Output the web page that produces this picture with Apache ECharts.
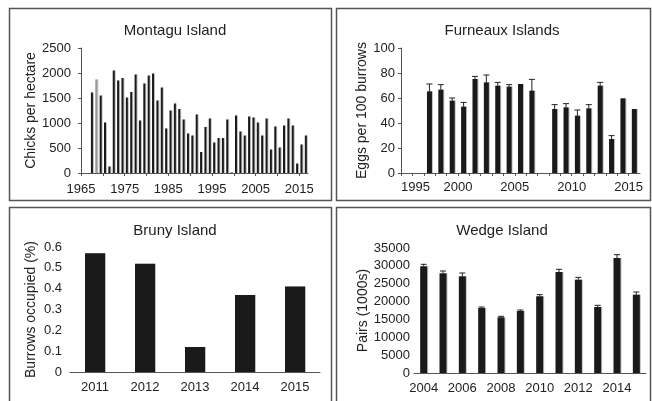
<!DOCTYPE html>
<html>
<head>
<meta charset="utf-8">
<script src="https://cdn.jsdelivr.net/npm/echarts@6/dist/echarts.min.js"></script>
<style>
  html, body { margin: 0; padding: 0; background: #fff; }
  #chart { width: 652px; height: 401px; }
</style>
</head>
<body>
<div id="chart"></div>
<script>
// Montagu Island - chicks per hectare
var montaguYears = [1967, 1968, 1969, 1970, 1971, 1972, 1973, 1974, 1975, 1976, 1977, 1978, 1979, 1980, 1981, 1982,
  1983, 1984, 1985, 1986, 1987, 1988, 1989, 1990, 1991, 1992, 1993, 1994, 1995, 1996, 1997, 1998, 1999, 2000,
  2001, 2002, 2003, 2004, 2005, 2006, 2007, 2008, 2009, 2010, 2011, 2012, 2013, 2014, 2015, 2016];
var montaguValues = [1610, 1870, 1550, 1010, 130, 2050, 1850, 1900, 1510, 1620, 1970, 1050, 1790, 1950, 1990, 1450,
  1710, 890, 1250, 1390, 1280, 1070, 790, 750, 1170, 420, 920, 1090, 610, 700, 700, 1070, 10, 1150,
  830, 750, 1130, 1110, 1010, 750, 1090, 470, 930, 510, 950, 1090, 950, 190, 570, 750];
var montaguGreyYear = 1968;

// Furneaux Islands - eggs per 100 burrows
var furneauxYears = [1997, 1998, 1999, 2000, 2001, 2002, 2003, 2004, 2005, 2006, 2008, 2009, 2010, 2011, 2012, 2013, 2014, 2015];
var furneauxValues = [65.3, 66.7, 57.9, 53.1, 75.2, 72.5, 69.9, 69.1, 71.2, 65.9, 51.2, 52.5, 45.9, 51.7, 69.9, 27.2, 59.7, 51.2];
var furneauxErrors = [5.9, 4.0, 2.1, 3.4, 2.1, 5.9, 2.6, 1.6, 0, 9.0, 3.5, 3.0, 4.5, 3.0, 2.6, 2.7, 0, 0];

// Bruny Island - burrows occupied
var brunyYears = ['2011', '2012', '2013', '2014', '2015'];
var brunyValues = [0.57, 0.52, 0.12, 0.37, 0.41];

// Wedge Island - pairs
var wedgeYears = ['2004', '2005', '2006', '2007', '2008', '2009', '2010', '2011', '2012', '2013', '2014', '2015'];
var wedgeValues = [29870, 27910, 27070, 18200, 15590, 17360, 21470, 28280, 26130, 18480, 32200, 21930];
var wedgeErrors = [560, 650, 930, 280, 280, 280, 470, 750, 650, 470, 930, 750];

var FONT = 'Liberation Sans, Arial, sans-serif';
var TXT = '#222';
var LINE = '#555';
var BAR = '#1a1a1a';

// bars sit in the middle of their year on the value axes
var montaguData = montaguYears.map(function (y, i) {
  var item = {value: [y + 0.5, montaguValues[i]]};
  if (y === montaguGreyYear) item.itemStyle = {color: '#999'};
  return item;
});
var furneauxData = furneauxYears.map(function (y, i) { return [y + 0.5, furneauxValues[i]]; });
var furneauxErr = furneauxYears.map(function (y, i) { return [y + 0.5, furneauxValues[i], furneauxErrors[i]]; });
var wedgeErr = wedgeYears.map(function (y, i) { return [i, wedgeValues[i], wedgeErrors[i]]; });

function errorBar(params, api) {
  var e = api.value(2);
  if (!e) return;
  var base = api.coord([api.value(0), api.value(1)]);
  var top = api.coord([api.value(0), api.value(1) + e]);
  var s = {stroke: '#222', lineWidth: 1};
  return {
    type: 'group',
    children: [
      {type: 'line', shape: {x1: base[0], y1: base[1], x2: top[0], y2: top[1]}, style: s},
      {type: 'line', shape: {x1: top[0] - 3, y1: top[1], x2: top[0] + 3, y2: top[1]}, style: s}
    ]
  };
}

function plain(v) { return String(v); }

function axis(b) {
  var a = {
    axisLine: {lineStyle: {color: LINE, width: 1}},
    axisTick: {length: 3, lineStyle: {color: LINE}},
    splitLine: {show: false},
    nameTextStyle: {color: TXT, fontSize: 14, fontFamily: FONT}
  };
  var lab = {color: TXT, fontSize: 13, fontFamily: FONT, formatter: plain};
  Object.assign(lab, b.label || {});
  delete b.label;
  a.axisLabel = lab;
  return Object.assign(a, b);
}

function titleAt(text, x, y) {
  return {text: text, left: x, top: y, textAlign: 'center',
    textStyle: {color: TXT, fontSize: 15, fontWeight: 'normal', fontFamily: FONT}};
}

var shadow = {shadowColor: 'rgba(0,0,0,0.25)', shadowOffsetX: 1, shadowBlur: 0};

var option = {
  backgroundColor: '#fff',
  animation: false,
  title: [
    titleAt('Montagu Island', 170, 18),
    titleAt('Furneaux Islands', 497, 18),
    titleAt('Bruny Island', 170, 218),
    titleAt('Wedge Island', 497, 218)
  ],
  grid: [
    {left: 81, top: 48, width: 227, height: 125},
    {left: 401, top: 48, width: 239, height: 125},
    {left: 70, top: 247, width: 250, height: 125},
    {left: 414, top: 248, width: 232, height: 125}
  ],
  xAxis: [
    axis({gridIndex: 0, type: 'value', min: 1965, max: 2017, interval: 5,
      label: {showMaxLabel: false, margin: 10,
        formatter: function (v) { return (v - 1965) % 10 === 0 ? String(v) : ''; }}}),
    axis({gridIndex: 1, type: 'value', min: 1995, max: 2016, interval: 1,
      label: {showMaxLabel: false, alignMinLabel: 'left',
        formatter: function (v) { return v % 5 === 0 ? String(v) : ''; }}}),
    axis({gridIndex: 2, type: 'category', data: brunyYears,
      axisTick: {length: 4, lineStyle: {color: LINE}}, label: {margin: 9}}),
    axis({gridIndex: 3, type: 'category', data: wedgeYears,
      axisTick: {length: 3, interval: 1, lineStyle: {color: LINE}},
      label: {interval: 1, margin: 9}})
  ],
  yAxis: [
    axis({gridIndex: 0, type: 'value', min: 0, max: 2500, interval: 500, label: {margin: 10},
      name: 'Chicks per hectare', nameLocation: 'middle', nameGap: 40}),
    axis({gridIndex: 1, type: 'value', min: 0, max: 100, interval: 20, label: {margin: 6},
      name: 'Eggs per 100 burrows', nameLocation: 'middle', nameGap: 23}),
    axis({gridIndex: 2, type: 'value', min: 0, max: 0.6, interval: 0.1, label: {margin: 8},
      name: 'Burrows occupied (%)', nameLocation: 'middle', nameGap: 32}),
    axis({gridIndex: 3, type: 'value', min: 0, max: 35000, interval: 5000, label: {margin: 4},
      name: 'Pairs (1000s)', nameLocation: 'middle', nameGap: 44})
  ],
  series: [
    {type: 'bar', xAxisIndex: 0, yAxisIndex: 0, barWidth: 2, data: montaguData,
      itemStyle: Object.assign({color: BAR}, shadow)},
    {type: 'bar', xAxisIndex: 1, yAxisIndex: 1, barWidth: 5, data: furneauxData,
      itemStyle: Object.assign({color: BAR}, shadow)},
    {type: 'custom', xAxisIndex: 1, yAxisIndex: 1, renderItem: errorBar, data: furneauxErr, z: 3},
    {type: 'bar', xAxisIndex: 2, yAxisIndex: 2, barWidth: 20, data: brunyValues,
      itemStyle: Object.assign({color: BAR}, shadow)},
    {type: 'bar', xAxisIndex: 3, yAxisIndex: 3, barWidth: 7, data: wedgeValues,
      itemStyle: Object.assign({color: BAR}, shadow)},
    {type: 'custom', xAxisIndex: 3, yAxisIndex: 3, renderItem: errorBar, data: wedgeErr, z: 3}
  ],
  graphic: [
    {type: 'rect', shape: {x: 9.5, y: 8.5, width: 322, height: 192}, style: {fill: null, stroke: '#555', lineWidth: 1.5}, silent: true},
    {type: 'rect', shape: {x: 336.5, y: 8.5, width: 314, height: 192}, style: {fill: null, stroke: '#555', lineWidth: 1.5}, silent: true},
    {type: 'rect', shape: {x: 9.5, y: 207.5, width: 322, height: 210}, style: {fill: null, stroke: '#555', lineWidth: 1.5}, silent: true},
    {type: 'rect', shape: {x: 336.5, y: 207.5, width: 314, height: 210}, style: {fill: null, stroke: '#555', lineWidth: 1.5}, silent: true}
  ]
};

var chart = echarts.init(document.getElementById('chart'));
chart.setOption(option);
</script>
</body>
</html>
